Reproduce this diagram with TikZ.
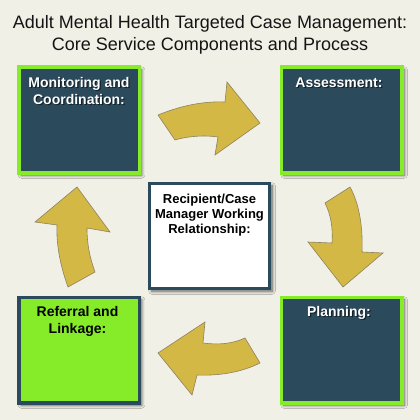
\documentclass[tikz,border=0pt]{standalone}
\usepackage{fontspec}
\setmainfont{Liberation Sans}
\usetikzlibrary{shadows.blur,calc}
\definecolor{bg}{HTML}{F1F0E6}
\definecolor{navy}{HTML}{2B4A5C}
\definecolor{lime}{HTML}{86EC2A}
\definecolor{gold}{HTML}{D4B845}
\definecolor{goldline}{HTML}{8C8260}
\definecolor{titletext}{HTML}{141414}
\tikzset{
  box/.style={rectangle, minimum width=120.5pt, minimum height=105.5pt, line width=3.5pt,
    blur shadow={shadow xshift=2.5pt, shadow yshift=-2.5pt, shadow blur radius=3pt, shadow blur steps=8, shadow opacity=60}},
  darkbox/.style={box, fill=navy, draw=lime},
  greenbox/.style={box, fill=lime, draw=navy},
  whitebox/.style={box, fill=white, draw=navy, line width=3pt},
  lbl/.style={font=\bfseries\fontsize{14}{16.7}\selectfont, align=center, inner sep=0pt, anchor=base},
  wlbl/.style={lbl, text=white},
  shd/.style={lbl, text=black, opacity=0.55},
  clbl/.style={lbl, font=\bfseries\fontsize{13}{15}\selectfont},
  curvedarrow/.style={fill=gold, draw=goldline, line width=0.6pt, line join=miter}
}
\begin{document}
\begin{tikzpicture}[x=1pt,y=-1pt]
\fill[bg] (0,0) rectangle (420,420);
\useasboundingbox (0,0) rectangle (420,420);

\node[font=\fontsize{18}{22.4}\selectfont, text=titletext, align=center, anchor=base, inner sep=0pt] (title) at (210,50.7)
  {Adult Mental Health Targeted Case Management:\\Core Service Components and Process};

% arrows
\draw[curvedarrow] (158,115) .. controls (180,106) and (203,101) .. (225,102) -- (227,82) -- (260,123) -- (215,155) -- (218,137) .. controls (205,135) and (188,136) .. (175,140) -- cycle;
\draw[curvedarrow] (350,187) .. controls (360,205) and (363,230) .. (362,252) -- (383,253) -- (343,287) -- (308,242) -- (332,243) .. controls (333,228) and (331,215) .. (325,203) -- cycle;
\draw[curvedarrow] (245,338) .. controls (232,344) and (218,345) .. (203,343) -- (205,322) -- (158,353) -- (192,395) -- (197,375) .. controls (220,376) and (242,372) .. (260,363) -- cycle;
\draw[curvedarrow] (68,287) .. controls (61,268) and (56,245) .. (57,225) -- (35,222) -- (77,187) -- (110,232) -- (87,228) .. controls (87,245) and (90,258) .. (95,272) -- cycle;

% boxes
\node[darkbox] (mon) at (79,120) {};
\node[darkbox] (ass) at (341.6,120) {};
\node[whitebox] (rel) at (209.5,236) {};
\node[greenbox] (ref) at (79,350) {};
\node[darkbox] (pla) at (341.6,350) {};

% labels
\node[shd] (monS) at (80.2,105.2) {Monitoring and\\Coordination:};
\node[wlbl] (monT) at (79,104) {Monitoring and\\Coordination:};
\node[shd] (assS) at (340.2,88.5) {Assessment:};
\node[wlbl] (assT) at (339,87.3) {Assessment:};
\node[clbl] (relT) at (209.5,233.3) {Recipient/Case\\Manager Working\\Relationship:};
\node[lbl] (refT) at (77.5,333.3) {Referral and\\Linkage:};
\node[shd] (plaS) at (340.2,317.9) {Planning:};
\node[wlbl] (plaT) at (339,316.7) {Planning:};
\end{tikzpicture}
\end{document}
